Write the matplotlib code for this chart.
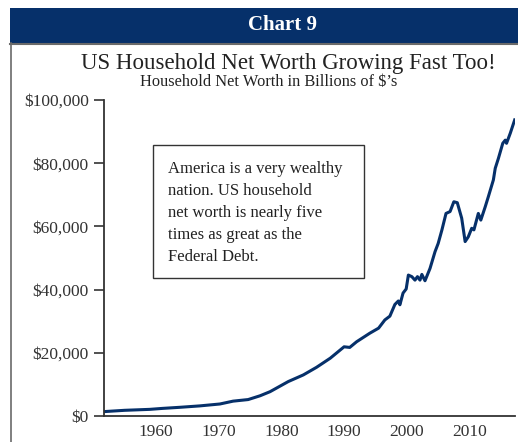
import matplotlib
matplotlib.use("Agg")
import matplotlib.pyplot as plt
from matplotlib.patches import Rectangle
from matplotlib.lines import Line2D
from matplotlib.ticker import FuncFormatter

# household net worth, billions of dollars
years = [1951.8, 1953, 1955, 1957, 1959, 1961, 1963.8, 1967, 1970.2, 1972.3,
         1974.7, 1976.6, 1978.2, 1981.1, 1983.5, 1985.6, 1987.8, 1990.0,
         1990.9, 1992.0, 1994.1, 1995.5, 1996.5, 1997.3, 1998.1, 1998.65,
         1998.9, 1999.4, 1999.9, 2000.25, 2000.8, 2001.3, 2001.7, 2002.1,
         2002.4, 2002.9, 2003.7, 2004.5, 2005.0, 2005.6, 2006.25, 2006.9,
         2007.5, 2008.05, 2008.75, 2009.3, 2009.8, 2010.35, 2010.7, 2011.4,
         2011.8, 2012.5, 2013.0, 2013.8, 2014.1, 2014.6, 2015.3, 2015.7,
         2015.9, 2016.5, 2017.2]
net_worth = [1400, 1550, 1800, 1950, 2100, 2400, 2750, 3200, 3800, 4700,
             5200, 6400, 7700, 10900, 13000, 15400, 18300, 21900,
             21700, 23500, 26200, 27800, 30400, 31600, 35300, 36400,
             35200, 38900, 40200, 44600, 44100, 43000, 44100, 43000,
             44800, 42800, 46700, 52000, 54600, 58900, 64100, 64700,
             67800, 67500, 62600, 55200, 56700, 59400, 58900, 64100,
             62000, 66200, 69400, 74700, 78400, 81500, 86300, 87300,
             86300, 89500, 93700]

y_ticks = [0, 20000, 40000, 60000, 80000, 100000]
x_ticks = [1960, 1970, 1980, 1990, 2000, 2010]

navy = "#06306a"
plt.rcParams["font.family"] = ["Liberation Serif", "DejaVu Serif"]

fig = plt.figure(figsize=(5.18, 4.42), dpi=100)
W, H = 518, 442

# header band
fig.patches.append(Rectangle((10 / W, 1 - 43 / H), 1 - 10 / W, 35 / H,
                             transform=fig.transFigure, facecolor=navy,
                             edgecolor="none"))
fig.lines.append(Line2D([10 / W, 1], [1 - 43.5 / H, 1 - 43.5 / H],
                        transform=fig.transFigure, color="#6a6a6a", lw=1.5))
fig.lines.append(Line2D([10.5 / W, 10.5 / W], [0, 1 - 43 / H],
                        transform=fig.transFigure, color="#6a6a6a", lw=1.2))
fig.text(283 / W, 1 - 25 / H, "Chart 9", color="white", fontsize=15,
         fontweight="bold", ha="center", va="center")
fig.text(288 / W, 1 - 63 / H, "US Household Net Worth Growing Fast Too!",
         fontsize=16.5, color="#222222", ha="center", va="center")
fig.text(269 / W, 1 - 82 / H, "Household Net Worth in Billions of $\u2019s",
         fontsize=11.8, color="#222222", ha="center", va="center")

ax = fig.add_axes([104 / W, 1 - 416 / H, (515 - 104) / W, (416 - 100) / H])
ax.plot(years, net_worth, color=navy, lw=2.2, solid_joinstyle="round")
ax.set_xlim(1951.72, 2017.25)
ax.set_ylim(0, 100000)
ax.set_yticks(y_ticks)
ax.set_xticks(x_ticks)
ax.yaxis.set_major_formatter(FuncFormatter(lambda v, p: "${:,.0f}".format(v)))
ax.tick_params(axis="y", length=7, width=1.2, color="#333333",
               labelsize=12.5, labelcolor="#333333", pad=4)
ax.tick_params(axis="x", length=0, labelsize=12.5, labelcolor="#333333", pad=6)
for side in ["top", "right"]:
    ax.spines[side].set_visible(False)
for side in ["left", "bottom"]:
    ax.spines[side].set_color("#333333")
    ax.spines[side].set_linewidth(1.3)

# note box
fig.patches.append(Rectangle((153 / W, 1 - 278 / H), (364 - 153) / W,
                             (278 - 145) / H, transform=fig.transFigure,
                             facecolor="white", edgecolor="#333333", lw=1.0))
note = ("America is a very wealthy\nnation. US household\n"
        "net worth is nearly five\ntimes as great as the\nFederal Debt.")
fig.text(168 / W, 1 - 161 / H, note, fontsize=12, color="#222222",
         ha="left", va="top", linespacing=1.5)

fig.savefig("out.png", dpi=100)
